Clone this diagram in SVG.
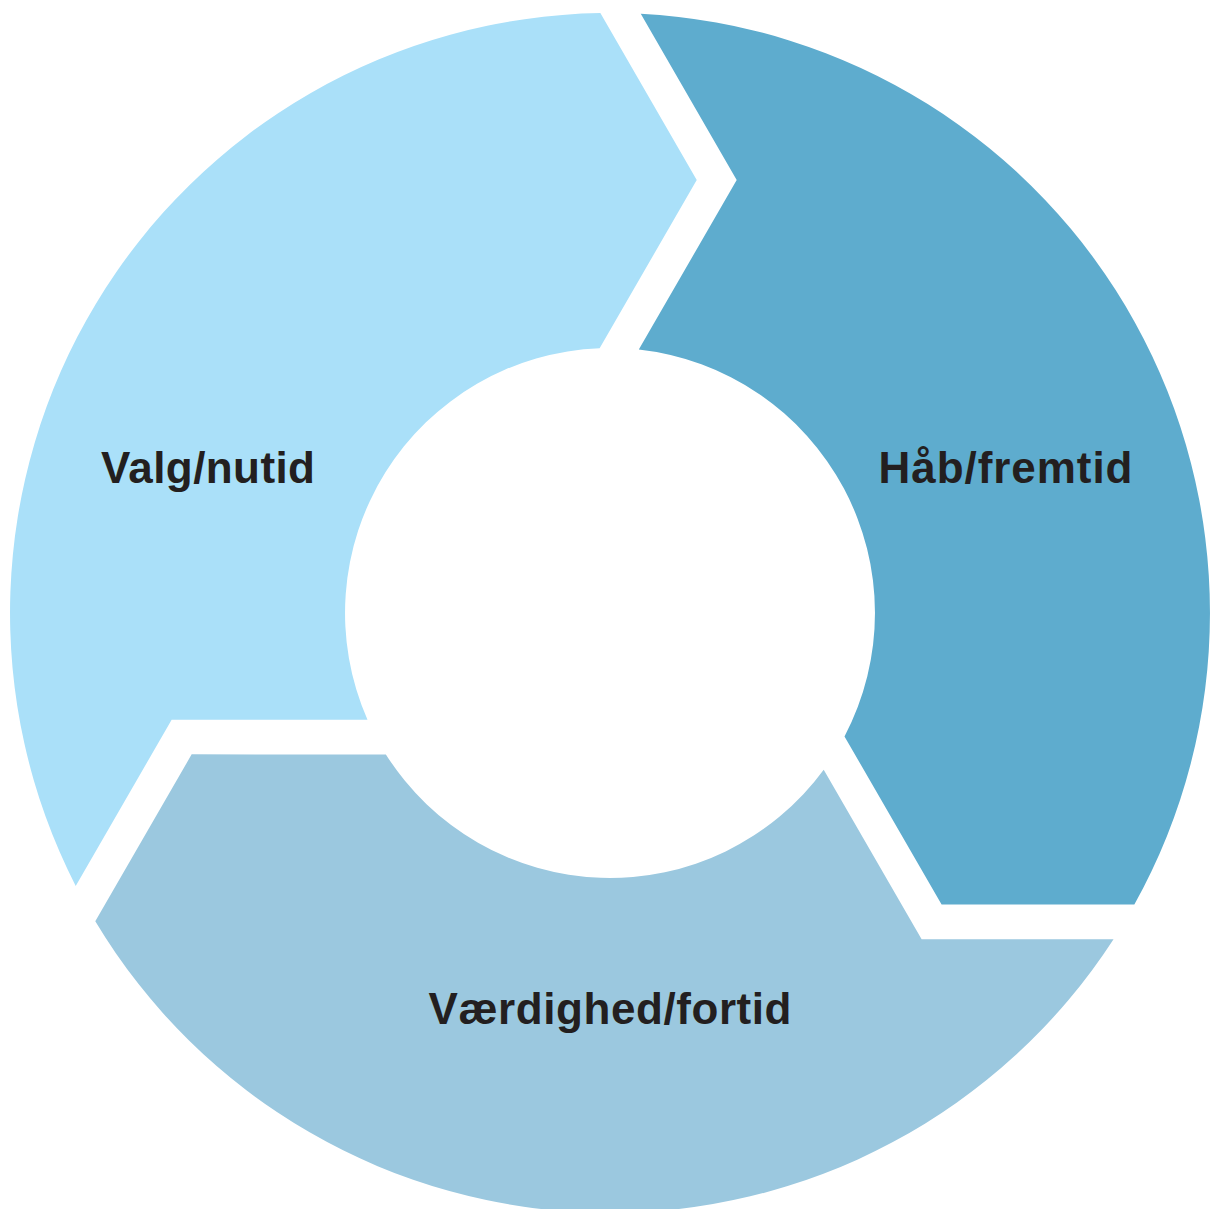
<svg xmlns="http://www.w3.org/2000/svg" xmlns:xlink="http://www.w3.org/1999/xlink" width="1213" height="1209" viewBox="0 0 1213 1209">
  <style>
    .label { font-family: "Liberation Sans", Arial, Helvetica, sans-serif; font-weight: bold; font-size: 44px; fill: #231f20; text-anchor: middle; }
    .seg-valg { fill: #aae0f9; }
    .seg-haab { fill: #5eacce; }
    .seg-vaerdighed { fill: #9bc8df; }
  </style>
  <defs>
    <!-- One ring segment (centre at origin): notched tail at the top, arrow tip at lower right -->
    <path id="segment" d="M 30.75,-599.2 A 600 600 0 0 1 524.35,291.6 L 331.6,291.6 L 234.5,123.4 A 265 265 0 0 0 28.8,-263.4 L 126.7,-433 Z"/>
  </defs>
  <rect width="1213" height="1209" fill="#ffffff"/>

  <g id="haab-fremtid">
    <use xlink:href="#segment" class="seg-haab" transform="translate(610 613)"/>
    <text class="label" x="1005.5" y="483.3" textLength="254" lengthAdjust="spacing">Håb/fremtid</text>
  </g>

  <g id="vaerdighed-fortid">
    <use xlink:href="#segment" class="seg-vaerdighed" transform="translate(610 613) rotate(120)"/>
    <text class="label" x="610" y="1024" textLength="363" lengthAdjust="spacing">Værdighed/fortid</text>
  </g>

  <g id="valg-nutid">
    <use xlink:href="#segment" class="seg-valg" transform="translate(610 613) rotate(240)"/>
    <text class="label" x="208" y="483.3" textLength="214" lengthAdjust="spacing">Valg/nutid</text>
  </g>
</svg>
